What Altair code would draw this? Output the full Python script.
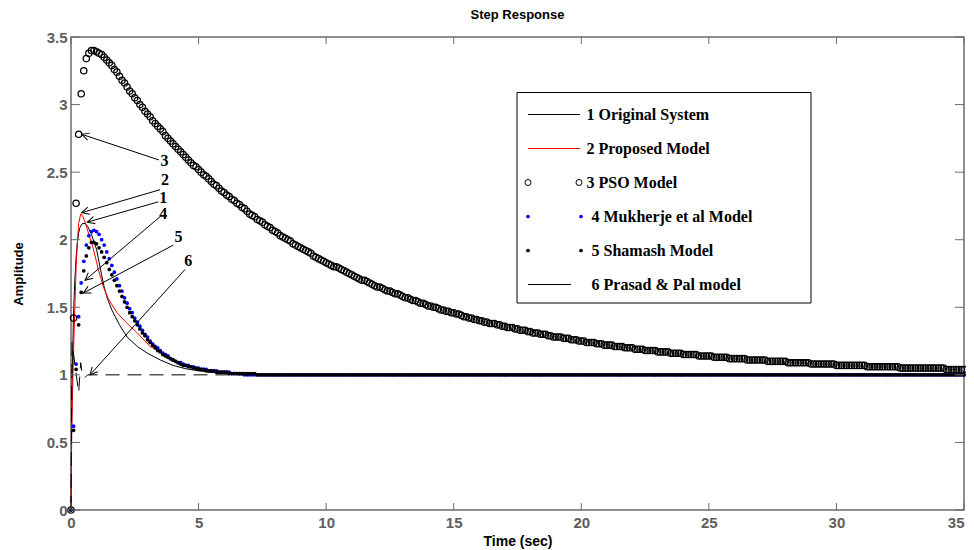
import math
import altair as alt
import pandas as pd

# ------------------------------------------------------------------ data
series_names = ["1 Original System", "2 Proposed Model", "3 PSO Model",
                "4 Mukherje et al Model", "5 Shamash Model", "6 Prasad & Pal model"]

x_ticks = [0, 5, 10, 15, 20, 25, 30, 35]
y_ticks = [0, 0.5, 1, 1.5, 2, 2.5, 3, 3.5]

# 1 Original system (solid black line)
t_orig = [0, 0.02, 0.04, 0.07, 0.1, 0.15, 0.2, 0.25, 0.3, 0.35, 0.45, 0.55, 0.65, 0.8,
          1.0, 1.2, 1.3, 1.4, 1.6, 1.9, 2.2, 2.6, 3.0, 3.5, 4.0, 4.5, 5.0, 5.7, 6.5, 8.0, 35.0]
a_orig = [0, 0.5, 0.9, 1.2, 1.45, 1.7, 1.87, 1.98, 2.05, 2.09, 2.12, 2.12, 2.10, 2.04,
          1.93, 1.74, 1.65, 1.58, 1.48, 1.37, 1.28, 1.21, 1.16, 1.11, 1.07, 1.045, 1.03, 1.015, 1.005, 1.0, 1.0]

# 2 Proposed model (solid red line)
t_prop = [0, 0.03, 0.07, 0.12, 0.16, 0.2, 0.25, 0.3, 0.38, 0.45, 0.55, 0.7, 0.88, 1.07,
          1.27, 1.47, 1.8, 2.2, 2.6, 3.1, 3.5, 4.0, 4.5, 5.0, 5.7, 6.5, 8.0, 35.0]
a_prop = [0, 0.6, 0.95, 1.3, 1.55, 1.8, 1.98, 2.12, 2.19, 2.18, 2.13, 2.04, 1.93, 1.78,
          1.65, 1.56, 1.46, 1.38, 1.31, 1.21, 1.17, 1.11, 1.07, 1.045, 1.02, 1.01, 1.0, 1.0]

# 6 Prasad & Pal model (dashed black line)
t_pp = [0, 0.04, 0.3, 0.38, 0.45, 0.55, 0.65, 35.0]
a_pp = [0, 1.24, 0.87, 1.09, 0.99, 0.98, 1.0, 1.0]

# sampled responses, one value every 0.1 s from 0 to 35 s
t_step = [i / 10 for i in range(351)]

a_pso = [
    0.00, 1.42, 2.27, 2.78, 3.08, 3.25, 3.34, 3.38, 3.40, 3.40,
    3.39, 3.38, 3.37, 3.35, 3.33, 3.31, 3.29, 3.26, 3.24, 3.21,
    3.18, 3.16, 3.13, 3.10, 3.08, 3.05, 3.03, 3.00, 2.98, 2.95,
    2.93, 2.91, 2.88, 2.86, 2.84, 2.82, 2.80, 2.77, 2.75, 2.73,
    2.71, 2.69, 2.67, 2.65, 2.63, 2.61, 2.59, 2.57, 2.55, 2.54,
    2.52, 2.50, 2.48, 2.47, 2.45, 2.43, 2.41, 2.40, 2.38, 2.36,
    2.35, 2.33, 2.32, 2.30, 2.29, 2.27, 2.26, 2.24, 2.23, 2.21,
    2.19, 2.18, 2.17, 2.15, 2.14, 2.13, 2.11, 2.10, 2.09, 2.07,
    2.06, 2.05, 2.03, 2.02, 2.01, 2.00, 1.99, 1.97, 1.96, 1.95,
    1.94, 1.93, 1.92, 1.91, 1.90, 1.88, 1.87, 1.86, 1.85, 1.84,
    1.83, 1.82, 1.81, 1.80, 1.80, 1.79, 1.78, 1.77, 1.76, 1.75,
    1.74, 1.73, 1.72, 1.71, 1.70, 1.70, 1.69, 1.68, 1.67, 1.66,
    1.65, 1.65, 1.64, 1.63, 1.62, 1.62, 1.61, 1.60, 1.60, 1.59,
    1.58, 1.57, 1.57, 1.56, 1.55, 1.55, 1.54, 1.53, 1.53, 1.52,
    1.51, 1.51, 1.50, 1.50, 1.49, 1.48, 1.48, 1.47, 1.47, 1.46,
    1.46, 1.45, 1.45, 1.44, 1.43, 1.43, 1.42, 1.42, 1.41, 1.41,
    1.40, 1.40, 1.39, 1.39, 1.38, 1.38, 1.38, 1.37, 1.37, 1.36,
    1.36, 1.35, 1.35, 1.35, 1.34, 1.34, 1.33, 1.33, 1.33, 1.32,
    1.32, 1.31, 1.31, 1.31, 1.30, 1.30, 1.30, 1.29, 1.29, 1.28,
    1.28, 1.28, 1.28, 1.27, 1.27, 1.27, 1.26, 1.26, 1.26, 1.25,
    1.25, 1.25, 1.24, 1.24, 1.24, 1.24, 1.23, 1.23, 1.23, 1.22,
    1.22, 1.22, 1.22, 1.21, 1.21, 1.21, 1.21, 1.20, 1.20, 1.20,
    1.20, 1.19, 1.19, 1.19, 1.19, 1.18, 1.18, 1.18, 1.18, 1.18,
    1.17, 1.17, 1.17, 1.17, 1.17, 1.16, 1.16, 1.16, 1.16, 1.16,
    1.15, 1.15, 1.15, 1.15, 1.15, 1.15, 1.14, 1.14, 1.14, 1.14,
    1.14, 1.14, 1.13, 1.13, 1.13, 1.13, 1.13, 1.13, 1.12, 1.12,
    1.12, 1.12, 1.12, 1.12, 1.12, 1.11, 1.11, 1.11, 1.11, 1.11,
    1.11, 1.11, 1.11, 1.10, 1.10, 1.10, 1.10, 1.10, 1.10, 1.10,
    1.10, 1.09, 1.09, 1.09, 1.09, 1.09, 1.09, 1.09, 1.09, 1.09,
    1.08, 1.08, 1.08, 1.08, 1.08, 1.08, 1.08, 1.08, 1.08, 1.08,
    1.07, 1.07, 1.07, 1.07, 1.07, 1.07, 1.07, 1.07, 1.07, 1.07,
    1.07, 1.07, 1.06, 1.06, 1.06, 1.06, 1.06, 1.06, 1.06, 1.06,
    1.06, 1.06, 1.06, 1.06, 1.06, 1.05, 1.05, 1.05, 1.05, 1.05,
    1.05, 1.05, 1.05, 1.05, 1.05, 1.05, 1.05, 1.05, 1.05, 1.05,
    1.05, 1.05, 1.05, 1.04, 1.04, 1.04, 1.04, 1.04, 1.04, 1.04,
    1.04,
]

a_muk = [
    0.00, 0.62, 1.08, 1.43, 1.68, 1.84, 1.96, 2.03, 2.06, 2.07,
    2.06, 2.04, 2.00, 1.96, 1.91, 1.86, 1.81, 1.76, 1.71, 1.66,
    1.62, 1.57, 1.53, 1.49, 1.46, 1.42, 1.39, 1.36, 1.33, 1.30,
    1.28, 1.25, 1.23, 1.21, 1.20, 1.18, 1.16, 1.15, 1.14, 1.12,
    1.11, 1.10, 1.09, 1.09, 1.08, 1.07, 1.07, 1.06, 1.06, 1.05,
    1.05, 1.04, 1.04, 1.04, 1.03, 1.03, 1.03, 1.03, 1.02, 1.02,
    1.02, 1.02, 1.02, 1.01, 1.01, 1.01, 1.01, 1.01, 1.00, 1.00,
    1.00, 1.00, 1.00, 1.00, 1.00, 1.00, 1.00, 1.00, 1.00, 1.00,
    1.00, 1.00, 1.00, 1.00, 1.00, 1.00, 1.00, 1.00, 1.00, 1.00,
    1.00, 1.00, 1.00, 1.00, 1.00, 1.00, 1.00, 1.00, 1.00, 1.00,
    1.00, 1.00, 1.00, 1.00, 1.00, 1.00, 1.00, 1.00, 1.00, 1.00,
    1.00, 1.00, 1.00, 1.00, 1.00, 1.00, 1.00, 1.00, 1.00, 1.00,
    1.00, 1.00, 1.00, 1.00, 1.00, 1.00, 1.00, 1.00, 1.00, 1.00,
    1.00, 1.00, 1.00, 1.00, 1.00, 1.00, 1.00, 1.00, 1.00, 1.00,
    1.00, 1.00, 1.00, 1.00, 1.00, 1.00, 1.00, 1.00, 1.00, 1.00,
    1.00, 1.00, 1.00, 1.00, 1.00, 1.00, 1.00, 1.00, 1.00, 1.00,
    1.00, 1.00, 1.00, 1.00, 1.00, 1.00, 1.00, 1.00, 1.00, 1.00,
    1.00, 1.00, 1.00, 1.00, 1.00, 1.00, 1.00, 1.00, 1.00, 1.00,
    1.00, 1.00, 1.00, 1.00, 1.00, 1.00, 1.00, 1.00, 1.00, 1.00,
    1.00, 1.00, 1.00, 1.00, 1.00, 1.00, 1.00, 1.00, 1.00, 1.00,
    1.00, 1.00, 1.00, 1.00, 1.00, 1.00, 1.00, 1.00, 1.00, 1.00,
    1.00, 1.00, 1.00, 1.00, 1.00, 1.00, 1.00, 1.00, 1.00, 1.00,
    1.00, 1.00, 1.00, 1.00, 1.00, 1.00, 1.00, 1.00, 1.00, 1.00,
    1.00, 1.00, 1.00, 1.00, 1.00, 1.00, 1.00, 1.00, 1.00, 1.00,
    1.00, 1.00, 1.00, 1.00, 1.00, 1.00, 1.00, 1.00, 1.00, 1.00,
    1.00, 1.00, 1.00, 1.00, 1.00, 1.00, 1.00, 1.00, 1.00, 1.00,
    1.00, 1.00, 1.00, 1.00, 1.00, 1.00, 1.00, 1.00, 1.00, 1.00,
    1.00, 1.00, 1.00, 1.00, 1.00, 1.00, 1.00, 1.00, 1.00, 1.00,
    1.00, 1.00, 1.00, 1.00, 1.00, 1.00, 1.00, 1.00, 1.00, 1.00,
    1.00, 1.00, 1.00, 1.00, 1.00, 1.00, 1.00, 1.00, 1.00, 1.00,
    1.00, 1.00, 1.00, 1.00, 1.00, 1.00, 1.00, 1.00, 1.00, 1.00,
    1.00, 1.00, 1.00, 1.00, 1.00, 1.00, 1.00, 1.00, 1.00, 1.00,
    1.00, 1.00, 1.00, 1.00, 1.00, 1.00, 1.00, 1.00, 1.00, 1.00,
    1.00, 1.00, 1.00, 1.00, 1.00, 1.00, 1.00, 1.00, 1.00, 1.00,
    1.00, 1.00, 1.00, 1.00, 1.00, 1.00, 1.00, 1.00, 1.00, 1.00,
    1.00,
]

a_sham = [
    0.00, 0.59, 1.04, 1.37, 1.61, 1.77, 1.88, 1.94, 1.98, 1.98,
    1.97, 1.94, 1.91, 1.87, 1.83, 1.78, 1.74, 1.70, 1.66, 1.62,
    1.58, 1.54, 1.50, 1.46, 1.43, 1.40, 1.37, 1.34, 1.31, 1.29,
    1.26, 1.24, 1.22, 1.20, 1.18, 1.17, 1.15, 1.14, 1.13, 1.12,
    1.11, 1.10, 1.09, 1.08, 1.07, 1.07, 1.06, 1.06, 1.05, 1.05,
    1.04, 1.04, 1.04, 1.03, 1.03, 1.03, 1.03, 1.02, 1.02, 1.02,
    1.02, 1.02, 1.01, 1.01, 1.01, 1.01, 1.01, 1.01, 1.01, 1.01,
    1.01, 1.01, 1.01, 1.00, 1.00, 1.00, 1.00, 1.00, 1.00, 1.00,
    1.00, 1.00, 1.00, 1.00, 1.00, 1.00, 1.00, 1.00, 1.00, 1.00,
    1.00, 1.00, 1.00, 1.00, 1.00, 1.00, 1.00, 1.00, 1.00, 1.00,
    1.00, 1.00, 1.00, 1.00, 1.00, 1.00, 1.00, 1.00, 1.00, 1.00,
    1.00, 1.00, 1.00, 1.00, 1.00, 1.00, 1.00, 1.00, 1.00, 1.00,
    1.00, 1.00, 1.00, 1.00, 1.00, 1.00, 1.00, 1.00, 1.00, 1.00,
    1.00, 1.00, 1.00, 1.00, 1.00, 1.00, 1.00, 1.00, 1.00, 1.00,
    1.00, 1.00, 1.00, 1.00, 1.00, 1.00, 1.00, 1.00, 1.00, 1.00,
    1.00, 1.00, 1.00, 1.00, 1.00, 1.00, 1.00, 1.00, 1.00, 1.00,
    1.00, 1.00, 1.00, 1.00, 1.00, 1.00, 1.00, 1.00, 1.00, 1.00,
    1.00, 1.00, 1.00, 1.00, 1.00, 1.00, 1.00, 1.00, 1.00, 1.00,
    1.00, 1.00, 1.00, 1.00, 1.00, 1.00, 1.00, 1.00, 1.00, 1.00,
    1.00, 1.00, 1.00, 1.00, 1.00, 1.00, 1.00, 1.00, 1.00, 1.00,
    1.00, 1.00, 1.00, 1.00, 1.00, 1.00, 1.00, 1.00, 1.00, 1.00,
    1.00, 1.00, 1.00, 1.00, 1.00, 1.00, 1.00, 1.00, 1.00, 1.00,
    1.00, 1.00, 1.00, 1.00, 1.00, 1.00, 1.00, 1.00, 1.00, 1.00,
    1.00, 1.00, 1.00, 1.00, 1.00, 1.00, 1.00, 1.00, 1.00, 1.00,
    1.00, 1.00, 1.00, 1.00, 1.00, 1.00, 1.00, 1.00, 1.00, 1.00,
    1.00, 1.00, 1.00, 1.00, 1.00, 1.00, 1.00, 1.00, 1.00, 1.00,
    1.00, 1.00, 1.00, 1.00, 1.00, 1.00, 1.00, 1.00, 1.00, 1.00,
    1.00, 1.00, 1.00, 1.00, 1.00, 1.00, 1.00, 1.00, 1.00, 1.00,
    1.00, 1.00, 1.00, 1.00, 1.00, 1.00, 1.00, 1.00, 1.00, 1.00,
    1.00, 1.00, 1.00, 1.00, 1.00, 1.00, 1.00, 1.00, 1.00, 1.00,
    1.00, 1.00, 1.00, 1.00, 1.00, 1.00, 1.00, 1.00, 1.00, 1.00,
    1.00, 1.00, 1.00, 1.00, 1.00, 1.00, 1.00, 1.00, 1.00, 1.00,
    1.00, 1.00, 1.00, 1.00, 1.00, 1.00, 1.00, 1.00, 1.00, 1.00,
    1.00, 1.00, 1.00, 1.00, 1.00, 1.00, 1.00, 1.00, 1.00, 1.00,
    1.00, 1.00, 1.00, 1.00, 1.00, 1.00, 1.00, 1.00, 1.00, 1.00,
    1.00,
]

# numbered call-outs: label, label position, arrow tail, arrow head (time, amplitude)
ann_label = ["3", "2", "1", "4", "5", "6"]
ann_lt = [3.66, 3.68, 3.62, 3.62, 4.21, 4.60]
ann_la = [2.585, 2.445, 2.31, 2.19, 2.02, 1.84]
ann_tt = [3.45, 3.49, 3.42, 3.49, 4.01, 4.47]
ann_ta = [2.59, 2.37, 2.28, 2.17, 1.96, 1.78]
ann_ht = [0.42, 0.42, 0.64, 0.55, 0.48, 0.745]
ann_ha = [2.78, 2.20, 2.13, 1.70, 1.605, 1.0]

# ------------------------------------------------------------------ layout
W, H = 893, 473
X_MAX, Y_MAX = 35.0, 3.5
FRAME = "#6b6b6b"
SANS = "Liberation Sans"
SERIF = "Liberation Serif"


def tx(px):   # plot-relative pixel -> time
    return px / W * X_MAX


def ay(py):   # plot-relative pixel -> amplitude
    return (H - py) / H * Y_MAX


xs = alt.Scale(domain=[0, X_MAX], nice=False, zero=False)
ys = alt.Scale(domain=[0, Y_MAX], nice=False, zero=False)

x_axis = alt.Axis(values=x_ticks, format="d", title="Time (sec)", grid=False, domain=False,
                  tickSize=0, labelPadding=5, labelFont=SANS, labelFontSize=15,
                  labelFontWeight="bold", labelColor="#5e5e5e", titleFont=SANS,
                  titleFontSize=14, titleFontWeight="bold", titleColor="black",
                  titlePadding=4, labelFlush=False,
                  labelAlign={"expr": "datum.value == 35 ? 'right' : 'center'"})
y_axis = alt.Axis(values=y_ticks, format="~g", title="Amplitude", grid=False, domain=False,
                  tickSize=0, labelPadding=4, labelFont=SANS, labelFontSize=15,
                  labelFontWeight="bold", labelColor="#5e5e5e", titleFont=SANS,
                  titleFontSize=13, titleFontWeight="bold", titleColor="black",
                  titlePadding=21, labelFlush=False)


def X(f):
    return alt.X(f, type="quantitative", scale=xs, axis=x_axis)


def Y(f):
    return alt.Y(f, type="quantitative", scale=ys, axis=y_axis)


df_orig = pd.DataFrame({"t": t_orig, "a": a_orig})
df_prop = pd.DataFrame({"t": t_prop, "a": a_prop})
df_pp = pd.DataFrame({"t": t_pp, "a": a_pp})
df_pso = pd.DataFrame({"t": t_step, "a": a_pso})
df_muk = pd.DataFrame({"t": t_step, "a": a_muk})
df_sham = pd.DataFrame({"t": t_step, "a": a_sham})

l_orig = alt.Chart(df_orig).mark_line(color="black", strokeWidth=1).encode(x=X("t"), y=Y("a"))
l_prop = alt.Chart(df_prop).mark_line(color="#ff0000", strokeWidth=1).encode(x=X("t"), y=Y("a"))
p_pso = alt.Chart(df_pso).mark_point(shape="circle", filled=False, color="black", size=40,
                                     strokeWidth=1.25, opacity=1).encode(x=X("t"), y=Y("a"))
p_muk = alt.Chart(df_muk).mark_circle(color="#0000ff", size=14, opacity=1).encode(x=X("t"), y=Y("a"))
p_sham = alt.Chart(df_sham).mark_circle(color="black", size=14, opacity=1).encode(x=X("t"), y=Y("a"))
l_pp = alt.Chart(df_pp).mark_line(color="black", strokeWidth=1, strokeDash=[14, 8]).encode(
    x=X("t"), y=Y("a"))

# inward ticks on all four sides (MATLAB style)
df_xt = pd.DataFrame({"t": x_ticks})
df_yt = pd.DataFrame({"a": y_ticks})
tk_b = alt.Chart(df_xt).mark_rule(color=FRAME, strokeWidth=1).encode(
    x=X("t"), y=alt.value(H), y2=alt.value(H - 7))
tk_t = alt.Chart(df_xt).mark_rule(color=FRAME, strokeWidth=1).encode(
    x=X("t"), y=alt.value(0), y2=alt.value(7))
tk_l = alt.Chart(df_yt).mark_rule(color=FRAME, strokeWidth=1).encode(
    y=Y("a"), x=alt.value(0), x2=alt.value(9))
tk_r = alt.Chart(df_yt).mark_rule(color=FRAME, strokeWidth=1).encode(
    y=Y("a"), x=alt.value(W), x2=alt.value(W - 9))

# call-outs
df_ann = pd.DataFrame({"label": ann_label, "lt": ann_lt, "la": ann_la, "tt": ann_tt,
                       "ta": ann_ta, "ht": ann_ht, "ha": ann_ha})
df_ann["ang"] = [
    math.degrees(math.atan2(-(h_a - t_a) * H / Y_MAX, (h_t - t_t) * W / X_MAX)) % 360
    for t_t, t_a, h_t, h_a in zip(ann_tt, ann_ta, ann_ht, ann_ha)
]
ann_lines = alt.Chart(df_ann).mark_rule(color="black", strokeWidth=1).encode(
    x=X("tt"), y=Y("ta"), x2="ht:Q", y2="ha:Q")
ARROW = "M-1,-0.5L0,0L-1,0.5"
ann_heads = alt.Chart(df_ann).mark_point(shape=ARROW, filled=False, color="black",
                                         strokeWidth=1, size=220, opacity=1).encode(
    x=X("ht"), y=Y("ha"), angle=alt.Angle("ang:Q", scale=None))
ann_text = alt.Chart(df_ann).mark_text(font=SERIF, fontSize=16, fontWeight="bold", color="black",
                                       align="center", baseline="middle").encode(
    x=X("lt"), y=Y("la"), text="label:N")

# legend (drawn as annotation, positioned in plot pixels, converted to data units)
LEG_L, LEG_T, LEG_R, LEG_B = 446, 55.5, 740, 266
row_y = [77.5, 111.5, 145.5, 179.5, 213.5, 247.5]
text_x = [515.5, 515.5, 515.5, 520.5, 520.5, 520.5]
df_box = pd.DataFrame({"x0": [tx(LEG_L)], "x1": [tx(LEG_R)], "y0": [ay(LEG_T)], "y1": [ay(LEG_B)]})
leg_box = alt.Chart(df_box).mark_rect(fill="white", stroke="black", strokeWidth=1).encode(
    x=X("x0"), x2="x1:Q", y=Y("y0"), y2="y1:Q")

df_legtxt = pd.DataFrame({"name": series_names, "x": [tx(v) for v in text_x],
                          "y": [ay(v) for v in row_y]})
leg_text = alt.Chart(df_legtxt).mark_text(font=SERIF, fontSize=16, fontWeight="bold",
                                          color="black", align="left", baseline="middle").encode(
    x=X("x"), y=Y("y"), text="name:N")

line_rows = [0, 1, 5]
df_legline = pd.DataFrame({
    "name": [series_names[i] for i in line_rows],
    "x0": [tx(457)] * 3,
    "x1": [tx(509), tx(509), tx(500)],
    "y": [ay(row_y[i]) for i in line_rows],
})
leg_lines = alt.Chart(df_legline).mark_rule(strokeWidth=1).encode(
    x=X("x0"), x2="x1:Q", y=Y("y"),
    color=alt.Color("name:N", legend=None,
                    scale=alt.Scale(domain=[series_names[i] for i in line_rows],
                                    range=["black", "#ff0000", "black"])))
df_legpso = pd.DataFrame({"x": [tx(457), tx(508)], "y": [ay(row_y[2])] * 2})
leg_pso = alt.Chart(df_legpso).mark_point(shape="circle", filled=False, color="black", size=36,
                                          strokeWidth=1, opacity=1).encode(x=X("x"), y=Y("y"))
df_legmuk = pd.DataFrame({"x": [tx(457), tx(510)], "y": [ay(row_y[3])] * 2})
leg_muk = alt.Chart(df_legmuk).mark_circle(color="#0000ff", size=14, opacity=1).encode(
    x=X("x"), y=Y("y"))
df_legsham = pd.DataFrame({"x": [tx(457), tx(510)], "y": [ay(row_y[4])] * 2})
leg_sham = alt.Chart(df_legsham).mark_circle(color="black", size=14, opacity=1).encode(
    x=X("x"), y=Y("y"))

chart = alt.layer(
    l_orig, l_prop, p_pso, p_muk, p_sham, l_pp,
    tk_b, tk_t, tk_l, tk_r,
    ann_lines, ann_heads, ann_text,
    leg_box, leg_lines, leg_pso, leg_muk, leg_sham, leg_text,
).properties(
    width=W, height=H,
    title=alt.TitleParams("Step Response", font=SANS, fontSize=13, fontWeight="bold",
                          color="black", anchor="middle", offset=8),
    autosize=alt.AutoSizeParams(type="none"),
    padding={"left": 63, "top": 29, "right": 2, "bottom": 40},
).configure_view(stroke=FRAME, strokeWidth=1.5)

chart.save("out.html", embed_options={"renderer": "svg", "actions": False})
